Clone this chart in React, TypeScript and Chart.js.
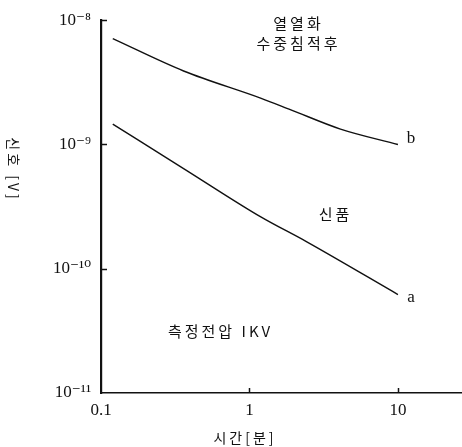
import React, { useEffect, useRef } from "react";
import { Chart, registerables } from "chart.js";

Chart.register(...registerables);

// Curve b: 열열화 수중침적후
const xB = [0.12, 0.36, 1.2, 1.9, 4.1, 10];
const yB = [7.1e-9, 3.9e-9, 2.35e-9, 1.9e-9, 1.33e-9, 1.0e-9];
// Curve a: 신품
const xA = [0.12, 0.36, 1.2, 2.4, 10];
const yA = [1.46e-9, 6.4e-10, 2.6e-10, 1.66e-10, 6.2e-11];

const xTickValues = [0.1, 1, 10];
const xTickLabels = ["0.1", "1", "10"];
const yTickValues = [1e-11, 1e-10, 1e-9, 1e-8];
const yTickLabels = ["10⁻¹¹", "10⁻¹⁰", "10⁻⁹", "10⁻⁸"];

const xTitle = "시간[분]";
const yTitle = "신호 [V]";

const annotations = [
  { text: "열열화", x: 297, y: 23 },
  { text: "수중침적후", x: 297, y: 43 },
  { text: "신품", x: 334, y: 214 },
  { text: "측정전압 IKV", x: 219, y: 331 },
];
const curveLabels = [
  { text: "b", x: 411, y: 139 },
  { text: "a", x: 411, y: 298 },
];

const SERIF = "'Liberation Serif', 'DejaVu Serif', serif";
const KR = "'Noto Sans CJK KR', sans-serif";

export default function App() {
  const ref = useRef<HTMLCanvasElement | null>(null);

  useEffect(() => {
    const canvas = ref.current;
    if (!canvas) return;

    const overlay = {
      id: "overlay",
      afterDraw(chart: any) {
        const ctx = chart.ctx;
        const xs = chart.scales.x;
        const ys = chart.scales.y;
        const area = chart.chartArea;
        ctx.save();
        ctx.strokeStyle = "#111";
        ctx.lineWidth = 1.5;
        yTickValues.forEach((v) => {
          if (v === yTickValues[0]) return;
          const py = Math.round(ys.getPixelForValue(v)) + 0.5;
          ctx.beginPath();
          ctx.moveTo(area.left, py);
          ctx.lineTo(area.left + 6, py);
          ctx.stroke();
        });
        xTickValues.forEach((v) => {
          if (v === xTickValues[0]) return;
          const px = Math.round(xs.getPixelForValue(v)) + 0.5;
          ctx.beginPath();
          ctx.moveTo(px, area.bottom);
          ctx.lineTo(px, area.bottom - 5);
          ctx.stroke();
        });
        ctx.fillStyle = "#111";
        ctx.textAlign = "center";
        ctx.textBaseline = "middle";
        (ctx as any).letterSpacing = "3px";
        ctx.font = "15px " + KR;
        annotations.forEach((a) => ctx.fillText(a.text, a.x + 1.5, a.y));
        ctx.font = "14px " + KR;
        ctx.fillText(xTitle, 245, 438);
        ctx.save();
        ctx.translate(13, 168);
        ctx.rotate(Math.PI / 2);
        ctx.fillText(yTitle, 1.5, 0);
        ctx.restore();
        (ctx as any).letterSpacing = "0px";
        ctx.font = "17px " + SERIF;
        curveLabels.forEach((a) => ctx.fillText(a.text, a.x, a.y));
        ctx.restore();
      },
    };

    const chart = new Chart(canvas, {
      type: "line",
      data: {
        datasets: [
          {
            label: "b",
            data: xB.map((x, i) => ({ x, y: yB[i] })),
            borderColor: "#111",
            borderWidth: 1.4,
            pointRadius: 0,
            cubicInterpolationMode: "monotone",
            fill: false,
          },
          {
            label: "a",
            data: xA.map((x, i) => ({ x, y: yA[i] })),
            borderColor: "#111",
            borderWidth: 1.4,
            pointRadius: 0,
            cubicInterpolationMode: "monotone",
            fill: false,
          },
        ],
      },
      options: {
        animation: false,
        responsive: false,
        maintainAspectRatio: false,
        layout: { padding: { top: 17, right: 0, left: 0, bottom: 0 } },
        plugins: {
          legend: { display: false },
          tooltip: { enabled: false },
        },
        scales: {
          x: {
            type: "logarithmic",
            min: 0.1,
            max: 27,
            afterBuildTicks: (scale: any) => {
              scale.ticks = xTickValues.map((v) => ({ value: v }));
            },
            afterFit: (scale: any) => {
              scale.height = 54;
            },
            ticks: {
              autoSkip: false,
              maxRotation: 0,
              padding: 7,
              color: "#111",
              font: { family: SERIF, size: 17 },
              callback: (v: any) => {
                const i = xTickValues.indexOf(Number(v));
                return i >= 0 ? xTickLabels[i] : "";
              },
            },
            grid: { display: true, drawOnChartArea: false, drawTicks: false, tickLength: 0 },
            border: { display: true, color: "#111", width: 1.6 },
            title: { display: false, text: xTitle },
          },
          y: {
            type: "logarithmic",
            min: 1e-11,
            max: 1e-8,
            afterBuildTicks: (scale: any) => {
              scale.ticks = yTickValues.map((v) => ({ value: v }));
            },
            afterFit: (scale: any) => {
              scale.width = 101;
            },
            ticks: {
              autoSkip: false,
              padding: 10,
              color: "#111",
              font: { family: SERIF, size: 17 },
              callback: (v: any) => {
                const i = yTickValues.findIndex((t) => Math.abs(t - Number(v)) / t < 1e-6);
                return i >= 0 ? yTickLabels[i] : "";
              },
            },
            grid: { display: true, drawOnChartArea: false, drawTicks: false, tickLength: 0 },
            border: { display: true, color: "#111", width: 2.2 },
          },
        },
      },
      plugins: [overlay],
    } as any);

    return () => chart.destroy();
  }, []);

  return (
    <div style={{ position: "absolute", left: 0, top: 0, width: 462, height: 447, background: "#fff" }}>
      <canvas ref={ref} width={462} height={447} />
    </div>
  );
}
